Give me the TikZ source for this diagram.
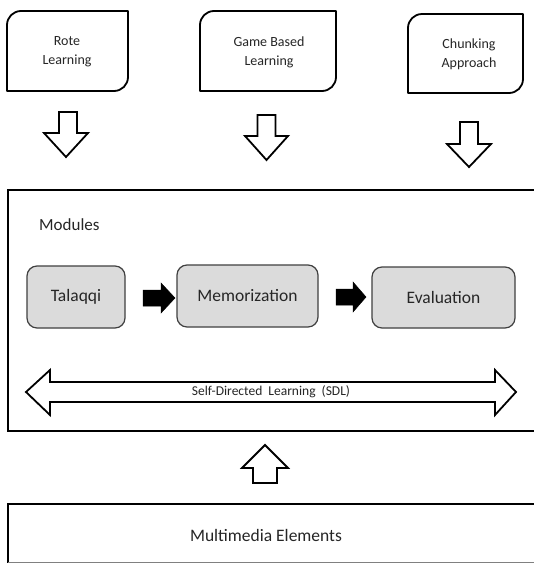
\documentclass[tikz,border=0pt]{standalone}
\usepackage{fontspec}
\setmainfont{Carlito}
\begin{document}
\begin{tikzpicture}[x=1pt,y=-1pt,
  topbox/.style={draw=black,line width=1.8pt,line join=round},
  toptext/.style={align=center,font=\fontsize{14}{19}\selectfont,text=black!85,inner sep=0pt},
  frame/.style={draw=black,line width=2pt},
  modbox/.style={draw=black!75,line width=1.2pt,fill=gray!28,rounded corners=10pt,inner sep=0pt},
  modtext/.style={font=\fontsize{17.5}{20}\selectfont,text=black!85},
  hollowarrow/.style={draw=black,line width=1.8pt,fill=white,line join=miter},
  solidarrow/.style={fill=black,draw=black,line width=0.5pt},
]
\useasboundingbox (0,0) rectangle (534,563);
\clip (0,0) rectangle (534,563);
\fill[white] (0,0) rectangle (534,563);

% top boxes (rounded top-left and bottom-right corners)
\draw[topbox] (7,91) -- (7,25) arc[start angle=180,end angle=270,radius=14] -- (128,11) -- (128,77) arc[start angle=0,end angle=90,radius=14] -- cycle;
\node[toptext] (rote) at (67,52) {Rote\\Learning};
\draw[topbox] (200,91) -- (200,25) arc[start angle=180,end angle=270,radius=14] -- (336,11) -- (336,77) arc[start angle=0,end angle=90,radius=14] -- cycle;
\node[toptext] (game) at (269,52) {Game Based\\Learning};
\draw[topbox] (408,93) -- (408,28) arc[start angle=180,end angle=270,radius=14] -- (523,14) -- (523,79) arc[start angle=0,end angle=90,radius=14] -- cycle;
\node[toptext] (chunk) at (469,54) {Chunking\\Approach};

% hollow down arrows
\draw[hollowarrow] (59,112) -- (77,112) -- (77,133) -- (88,133) -- (66,157) -- (44,133) -- (59,133) -- cycle;
\draw[hollowarrow] (257.5,115) -- (275.5,115) -- (275.5,136) -- (288,136) -- (266.5,160) -- (245,136) -- (257.5,136) -- cycle;
\draw[hollowarrow] (460,122) -- (478,122) -- (478,144) -- (491,144) -- (469,167) -- (447,144) -- (460,144) -- cycle;

% modules frame
\draw[frame] (545,190) -- (8,190) -- (8,431) -- (545,431);
\node[anchor=west,font=\fontsize{17}{20}\selectfont,text=black!85,inner sep=0pt] (modules) at (39,225) {Modules};

% module boxes
\node[modbox,minimum width=98pt,minimum height=62pt] (talaqqi) at (76,297) {};
\node[modtext] at (talaqqi.center) {Talaqqi};
\node[modbox,minimum width=141pt,minimum height=62pt] (memo) at (247.5,296) {};
\node[modtext] at (memo.center) {Memorization};
\node[modbox,minimum width=143pt,minimum height=61pt] (eval) at (443.5,297.5) {};
\node[modtext] at (eval.center) {Evaluation};

% solid arrows
\draw[solidarrow] (143,290) -- (161,290) -- (161,283) -- (175,298) -- (161,313) -- (161,306) -- (143,306) -- cycle;
\draw[solidarrow] (336,289) -- (353,289) -- (353,282) -- (366,297) -- (353,312) -- (353,305) -- (336,305) -- cycle;

% double arrow SDL
\draw[hollowarrow] (26,392) -- (50,370) -- (50,382) -- (495,382) -- (495,370) -- (516,392) -- (495,415) -- (495,402) -- (50,402) -- (50,415) -- cycle;
\node[font=\fontsize{13.5}{15}\selectfont,text=black!85,inner sep=0pt] (sdl) at (271,392) {Self-Directed\hspace{3pt} Learning\hspace{3pt} (SDL)};

% up arrow
\draw[hollowarrow] (253,483) -- (277,483) -- (277,468) -- (288,468) -- (265,445) -- (242,468) -- (253,468) -- cycle;

% multimedia frame
\draw[frame] (545,504) -- (8,504) -- (8,565);
\draw[gray,line width=1pt] (8,562.5) -- (545,562.5);
\node[font=\fontsize{17.5}{20}\selectfont,text=black!85,inner sep=0pt] (multi) at (266,535) {Multimedia Elements};
\end{tikzpicture}
\end{document}
